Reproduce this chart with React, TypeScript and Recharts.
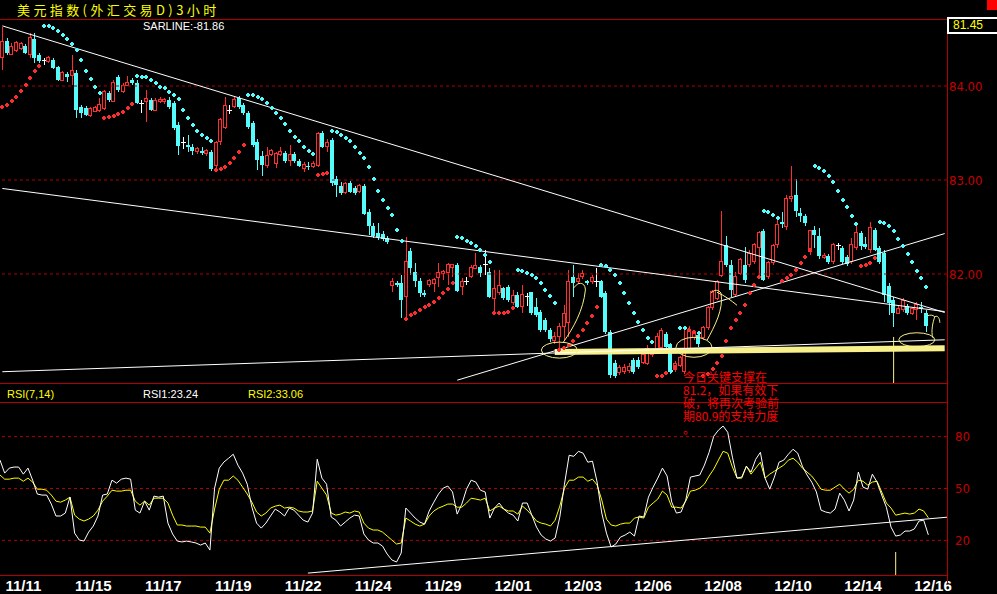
import React from 'react'
import {
  ComposedChart, Bar, Line, XAxis, YAxis,
  ReferenceLine, ReferenceDot
} from 'recharts'

// 3-hour bars, USD index
const opens = [
  84.30, 84.48, 84.34, 84.38, 84.40, 84.43, 84.34, 84.50, 84.33, 84.27,
  84.26, 84.28, 84.20, 84.06, 84.13, 84.11, 84.14, 83.78, 83.77, 83.69,
  83.73, 83.74, 83.76, 83.93, 83.84, 84.10, 83.94, 84.01, 84.06, 84.03,
  83.81, 83.83, 83.85, 83.74, 83.83, 83.83, 83.85, 83.82, 83.59, 83.40,
  83.37, 83.35, 83.30, 83.31, 83.28, 83.30, 83.15, 83.41, 83.56, 83.74,
  83.78, 83.87, 83.80, 83.71, 83.61, 83.40, 83.25, 83.15, 83.27, 83.18,
  83.27, 83.29, 83.21, 83.28, 83.20, 83.12, 83.15, 83.14, 83.15, 83.50,
  83.36, 83.43, 83.01, 82.94, 82.87, 82.97, 82.92, 82.88, 82.94, 82.66,
  82.51, 82.44, 82.43, 82.38, 81.88, 81.90, 81.90, 81.76, 82.24, 82.02,
  81.93, 81.80, 81.89, 81.90, 81.96, 82.00, 82.02, 82.07, 82.10, 81.87,
  81.92, 81.97, 82.06, 82.07, 82.10, 82.02, 81.74, 81.80, 81.85, 81.86,
  81.70, 81.78, 81.65, 81.76, 81.81, 81.65, 81.60, 81.51, 81.40, 81.29,
  81.33, 81.44, 81.48, 81.97, 81.92, 81.97, 81.92, 81.92, 81.92, 81.92,
  81.80, 81.38, 81.05, 80.95, 80.96, 80.97, 81.08, 81.08, 81.06, 81.05,
  81.14, 81.19, 81.22, 81.36, 81.25, 80.98, 81.03, 80.96, 81.19, 81.32,
  81.35, 81.32, 81.43, 81.64, 81.74, 81.98, 82.31, 82.10, 81.78, 82.01,
  82.10, 82.10, 82.13, 82.28, 82.46, 81.97, 82.12, 82.31, 82.55, 82.51,
  82.80, 82.84, 82.65, 82.62, 82.24, 82.47, 82.40, 82.18, 82.19, 82.13,
  82.30, 82.28, 82.18, 82.13, 82.28, 82.44, 82.32, 82.26, 82.47, 82.28,
  82.22, 81.87, 81.72, 81.58, 81.62, 81.66, 81.58, 81.62, 81.65, 81.58
]
const highs = [
  84.63, 84.51, 84.46, 84.48, 84.47, 84.45, 84.56, 84.56, 84.35, 84.30,
  84.32, 84.30, 84.21, 84.16, 84.15, 84.33, 84.17, 83.80, 83.79, 83.78,
  83.79, 83.87, 83.96, 83.95, 84.06, 84.12, 84.03, 84.11, 84.08, 84.06,
  83.85, 83.96, 83.87, 83.87, 83.88, 83.87, 83.88, 83.84, 83.62, 83.46,
  83.48, 83.38, 83.35, 83.35, 83.33, 83.32, 83.42, 83.66, 83.88, 83.80,
  83.89, 83.89, 83.82, 83.73, 83.63, 83.44, 83.31, 83.35, 83.33, 83.30,
  83.35, 83.31, 83.37, 83.30, 83.22, 83.19, 83.19, 83.20, 83.51, 83.52,
  83.44, 83.45, 83.04, 82.98, 82.98, 82.99, 82.94, 82.96, 82.96, 82.69,
  82.54, 82.54, 82.46, 82.40, 81.96, 81.93, 81.99, 82.39, 82.28, 82.12,
  81.96, 81.83, 81.95, 81.96, 82.12, 82.04, 82.12, 82.11, 82.12, 81.96,
  81.97, 82.10, 82.22, 82.10, 82.26, 82.06, 82.04, 82.04, 81.86, 81.88,
  81.83, 81.81, 81.88, 81.80, 81.81, 81.74, 81.62, 81.53, 81.43, 81.38,
  81.48, 81.67, 82.04, 82.10, 82.01, 82.04, 81.94, 81.99, 82.06, 81.94,
  81.82, 81.40, 81.08, 81.03, 81.04, 81.05, 81.11, 81.12, 81.16, 81.24,
  81.19, 81.37, 81.43, 81.38, 81.27, 81.07, 81.13, 81.43, 81.45, 81.40,
  81.37, 81.45, 81.66, 81.83, 81.94, 82.67, 82.40, 82.15, 82.02, 82.17,
  82.29, 82.25, 82.33, 82.46, 82.48, 82.14, 82.32, 82.57, 82.66, 82.84,
  83.15, 83.01, 82.70, 82.64, 82.46, 82.51, 82.49, 82.22, 82.21, 82.33,
  82.33, 82.30, 82.20, 82.38, 82.55, 82.46, 82.39, 82.55, 82.49, 82.30,
  82.26, 81.90, 81.76, 81.67, 81.74, 81.68, 81.65, 81.70, 81.70, 81.62
]
const lows = [
  84.17, 84.33, 84.33, 84.36, 84.38, 84.34, 84.30, 84.25, 84.25, 84.22,
  84.25, 84.18, 84.05, 84.05, 84.04, 84.01, 83.66, 83.66, 83.68, 83.67,
  83.72, 83.72, 83.74, 83.83, 83.83, 83.94, 83.93, 84.00, 84.01, 83.81,
  83.71, 83.62, 83.73, 83.73, 83.82, 83.81, 83.76, 83.53, 83.27, 83.33,
  83.30, 83.27, 83.28, 83.27, 83.26, 83.10, 83.13, 83.37, 83.54, 83.70,
  83.77, 83.76, 83.69, 83.54, 83.35, 83.11, 83.04, 83.13, 83.25, 83.13,
  83.25, 83.18, 83.15, 83.18, 83.14, 83.09, 83.11, 83.13, 83.14, 83.34,
  83.30, 82.94, 82.82, 82.84, 82.85, 82.86, 82.84, 82.86, 82.63, 82.42,
  82.38, 82.36, 82.35, 82.32, 81.81, 81.86, 81.53, 81.54, 81.99, 81.86,
  81.76, 81.76, 81.86, 81.81, 81.86, 81.94, 81.88, 81.97, 81.81, 81.78,
  81.88, 81.96, 82.05, 81.97, 81.99, 81.74, 81.58, 81.78, 81.72, 81.70,
  81.67, 81.64, 81.58, 81.66, 81.56, 81.54, 81.38, 81.38, 81.28, 81.25,
  81.19, 81.30, 81.33, 81.76, 81.89, 81.95, 81.88, 81.89, 81.86, 81.74,
  81.36, 80.89, 80.89, 80.92, 80.94, 80.95, 80.94, 80.99, 81.04, 81.03,
  81.12, 81.16, 81.20, 81.20, 80.94, 80.96, 81.01, 80.94, 81.17, 81.30,
  81.22, 81.30, 81.40, 81.62, 81.72, 81.97, 82.07, 81.76, 81.76, 81.99,
  81.90, 82.07, 82.11, 81.96, 81.92, 81.95, 82.10, 82.28, 82.49, 82.47,
  82.77, 82.61, 82.55, 82.51, 82.20, 82.28, 82.16, 82.16, 82.11, 82.11,
  82.26, 82.11, 82.09, 82.11, 82.26, 82.26, 82.27, 82.22, 82.24, 82.11,
  81.70, 81.56, 81.44, 81.57, 81.60, 81.56, 81.56, 81.51, 81.58, 81.38
]
const closes = [
  84.47, 84.35, 84.42, 84.46, 84.45, 84.35, 84.52, 84.30, 84.27, 84.27,
  84.30, 84.19, 84.06, 84.14, 84.10, 84.17, 83.74, 83.71, 83.69, 83.76,
  83.77, 83.80, 83.94, 83.85, 84.04, 83.96, 84.01, 84.04, 84.03, 83.82,
  83.81, 83.87, 83.74, 83.85, 83.86, 83.86, 83.78, 83.55, 83.36, 83.40,
  83.35, 83.31, 83.33, 83.29, 83.31, 83.12, 83.40, 83.64, 83.79, 83.74,
  83.86, 83.78, 83.71, 83.56, 83.37, 83.21, 83.16, 83.26, 83.31, 83.28,
  83.30, 83.20, 83.27, 83.20, 83.15, 83.16, 83.14, 83.18, 83.49, 83.35,
  83.40, 82.97, 82.95, 82.86, 82.96, 82.87, 82.86, 82.94, 82.64, 82.51,
  82.40, 82.39, 82.37, 82.34, 81.92, 81.88, 81.72, 82.13, 82.06, 81.92,
  81.80, 81.78, 81.93, 81.94, 82.02, 82.03, 82.10, 82.10, 81.82, 81.92,
  81.92, 82.07, 82.09, 82.01, 82.10, 81.76, 81.85, 81.88, 81.74, 81.72,
  81.77, 81.65, 81.78, 81.76, 81.58, 81.56, 81.40, 81.40, 81.31, 81.34,
  81.44, 81.58, 81.92, 81.90, 81.95, 82.01, 81.90, 81.96, 81.92, 81.76,
  81.38, 80.92, 80.91, 81.00, 81.01, 81.02, 80.96, 81.01, 81.14, 81.21,
  81.17, 81.33, 81.40, 81.22, 80.96, 81.05, 81.11, 81.19, 81.40, 81.38,
  81.25, 81.43, 81.64, 81.81, 81.92, 82.13, 82.10, 81.83, 81.97, 82.15,
  81.94, 82.22, 82.31, 82.44, 81.94, 82.12, 82.30, 82.53, 82.53, 82.80,
  82.82, 82.67, 82.62, 82.54, 82.46, 82.42, 82.19, 82.20, 82.13, 82.31,
  82.30, 82.13, 82.11, 82.31, 82.44, 82.30, 82.29, 82.49, 82.26, 82.13,
  81.78, 81.69, 81.58, 81.63, 81.72, 81.58, 81.63, 81.67, 81.63, 81.45
]
const sarValues = [
  83.78, 83.80, 83.84, 83.88, 83.95, 84.01, 84.09, 84.16, 84.21, 84.64,
  84.64, 84.62, 84.59, 84.54, 84.50, 84.45, 84.38, 84.28, 84.16, 84.07,
  83.99, 83.93, 83.66, 83.67, 83.68, 83.70, 83.72, 83.77, 83.81, 84.11,
  84.10, 84.10, 84.06, 84.03, 83.99, 83.98, 83.94, 83.90, 83.86, 83.74,
  83.66, 83.59, 83.52, 83.48, 83.45, 83.41, 83.11, 83.12, 83.14, 83.18,
  83.23, 83.30, 83.37, 83.90, 83.90, 83.88, 83.86, 83.82, 83.77, 83.71,
  83.66, 83.60, 83.52, 83.46, 83.41, 83.35, 83.31, 83.28, 83.05, 83.06,
  83.07, 83.52, 83.51, 83.48, 83.45, 83.41, 83.35, 83.29, 83.23, 83.14,
  83.01, 82.88, 82.79, 82.70, 82.63, 82.47, 82.35, 81.52, 81.56, 81.58,
  81.62, 81.65, 81.67, 81.70, 81.74, 81.80, 81.84, 81.90, 82.39, 82.38,
  82.35, 82.33, 82.30, 82.26, 82.20, 82.13, 81.58, 81.58, 81.58, 81.60,
  81.64, 82.04, 82.03, 82.01, 81.99, 81.96, 81.90, 81.83, 81.77, 81.69,
  81.19, 81.21, 81.24, 81.29, 81.34, 81.40, 81.48, 81.55, 81.65, 82.10,
  82.09, 82.04, 81.99, 81.90, 81.80, 81.69, 81.58, 81.49, 81.40, 81.32,
  81.28, 80.91, 80.91, 80.95, 80.97, 81.01, 81.43, 81.42, 81.40, 81.38,
  81.37, 80.91, 80.94, 80.99, 81.05, 81.13, 81.29, 81.42, 81.51, 81.58,
  81.67, 81.80, 81.88, 81.97, 82.67, 82.66, 82.63, 82.60, 81.93, 81.96,
  81.99, 82.04, 82.12, 82.18, 82.26, 83.15, 83.13, 83.10, 83.04, 82.98,
  82.88, 82.79, 82.71, 82.62, 82.53, 82.09, 82.10, 82.12, 82.17, 82.55,
  82.54, 82.51, 82.46, 82.37, 82.30, 82.21, 82.13, 82.03, 81.96, 81.86
]
const rsi1 = [
  66.4, 58.9, 61.8, 62.4, 62.4, 58.3, 61.8, 54.8, 46.8, 46.2,
  46.2, 41.0, 34.1, 34.1, 35.8, 45.0, 24.2, 20.2, 19.6, 24.8,
  28.3, 34.1, 46.2, 46.8, 54.8, 53.1, 55.4, 56.0, 55.4, 37.5,
  35.8, 42.7, 37.5, 45.6, 45.0, 45.6, 30.0, 23.7, 19.6, 19.1,
  19.6, 19.1, 18.5, 17.3, 18.5, 14.4, 50.2, 61.8, 65.3, 67.5,
  69.8, 63.5, 58.9, 52.5, 39.2, 30.0, 27.1, 30.0, 34.1, 38.1,
  36.4, 34.1, 38.7, 37.5, 34.6, 31.7, 30.6, 35.8, 66.9, 56.0,
  52.5, 33.5, 31.7, 28.3, 30.6, 32.9, 34.6, 34.1, 23.7, 20.2,
  18.5, 18.5, 16.7, 12.1, 8.7, 7.5, 12.7, 38.7, 35.8, 32.9,
  30.6, 29.4, 37.0, 42.1, 46.8, 50.2, 51.4, 48.0, 35.2, 41.0,
  49.6, 54.8, 53.7, 49.0, 48.0, 32.9, 38.7, 41.6, 38.1, 35.8,
  34.6, 31.2, 41.6, 41.6, 34.6, 27.7, 23.1, 20.8, 19.6, 21.4,
  33.5, 52.5, 69.2, 68.6, 71.5, 70.4, 65.2, 65.8, 53.7, 35.8,
  24.2, 16.2, 17.9, 21.9, 23.1, 24.8, 22.5, 34.1, 33.5, 45.0,
  50.8, 56.0, 61.8, 57.2, 42.1, 35.8, 36.4, 43.3, 56.6, 57.2,
  57.8, 63.5, 70.9, 80.2, 83.7, 86.1, 82.5, 68.1, 56.0, 56.6,
  62.9, 59.5, 66.9, 70.9, 56.0, 49.6, 56.6, 65.2, 66.4, 69.8,
  72.7, 70.4, 62.9, 57.8, 53.7, 48.0, 37.5, 36.4, 35.8, 38.1,
  47.3, 43.3, 37.0, 43.3, 59.5, 50.8, 49.6, 58.3, 53.7, 46.2,
  39.2, 27.7, 22.5, 23.1, 25.4, 25.4, 26.6, 31.2, 31.7, 23.2
]
const rsi2 = [
  57.8, 55.4, 55.4, 56.0, 56.0, 54.2, 56.0, 53.7, 49.6, 49.6,
  49.0, 46.2, 42.7, 42.1, 43.3, 45.0, 34.6, 32.3, 31.2, 32.3,
  34.1, 37.5, 42.7, 45.6, 49.0, 48.5, 48.5, 49.0, 49.0, 42.7,
  40.4, 42.7, 40.4, 44.4, 44.4, 44.4, 41.6, 34.6, 28.9, 28.9,
  28.3, 28.3, 28.3, 27.7, 27.7, 24.2, 38.1, 49.6, 54.8, 54.8,
  57.2, 54.8, 50.8, 46.8, 42.1, 36.4, 34.1, 35.8, 38.7, 39.8,
  40.4, 38.7, 39.2, 38.7, 37.0, 36.4, 36.4, 37.0, 54.2, 50.2,
  46.2, 35.8, 34.6, 35.2, 36.4, 35.8, 37.0, 36.4, 30.0, 27.1,
  26.0, 26.0, 24.8, 22.5, 20.2, 17.9, 18.5, 32.9, 31.2, 29.4,
  28.3, 29.4, 34.1, 37.0, 38.7, 39.8, 41.0, 41.0, 39.2, 39.2,
  41.6, 44.4, 43.9, 43.3, 44.4, 37.0, 38.7, 39.8, 38.1, 37.0,
  37.0, 35.2, 39.8, 37.5, 34.6, 31.2, 30.0, 29.4, 28.3, 31.7,
  39.8, 50.2, 54.8, 54.8, 56.6, 56.6, 54.2, 55.4, 52.0, 43.3,
  32.3, 28.9, 28.3, 29.4, 30.0, 30.0, 32.9, 33.5, 32.9, 39.2,
  41.6, 43.9, 48.5, 46.2, 39.2, 39.2, 38.7, 42.7, 48.5, 49.0,
  50.2, 52.5, 57.2, 61.2, 66.4, 71.5, 70.4, 62.4, 56.0, 56.0,
  62.9, 58.3, 61.8, 65.2, 56.0, 58.3, 60.0, 61.8, 63.5, 66.4,
  67.5, 65.2, 61.8, 59.5, 57.2, 53.7, 49.6, 49.0, 49.0, 50.8,
  52.5, 49.6, 47.3, 49.6, 54.8, 54.2, 52.0, 53.7, 54.2, 48.0,
  41.6, 38.7, 34.6, 35.2, 35.8, 35.2, 35.8, 38.1, 37.0, 33.1
]
const dateTicks = [5, 20, 35, 50, 65, 80, 95, 110, 125, 140, 155, 170, 185, 200]
const dateLabels = ['11/11', '11/15', '11/17', '11/19', '11/22', '11/24', '11/29',
  '12/01', '12/03', '12/06', '12/08', '12/10', '12/14', '12/16']
const priceTicks = [82, 83, 84]
const rsiTicks = [20, 50, 80]

// hand drawn lines on the chart: [bar, price] -> [bar, price]
const trendLines = [
  [[0, 84.64], [203, 81.59]],
  [[0, 82.91], [203, 81.60]],
  [[98, 80.87], [203, 82.43]],
  [[0, 80.96], [203, 81.30]]
]
const supportBand = [[119, 81.17], [203, 81.21]]
const rsiTrend = [[66, 1.1], [203, 33.4]]
const markerBar = 192

const SLOTS = 204
const rows = Array.from({ length: SLOTS }, (_, i) => ({
  i,
  open: opens[i], high: highs[i], low: lows[i], close: closes[i],
  sar: sarValues[i], rsi1: rsi1[i], rsi2: rsi2[i]
}))

const UP = '#ff2e2e'
const DOWN = '#54fcfc'
const FLAT = '#ffffff'
const GRID = '#b00000'
const AXIS_RED = '#c40000'
const YELLOW = '#ffff00'
const PALE = '#f8f08a'
const NARROW = "'Liberation Sans Narrow', 'DejaVu Sans Condensed', 'Liberation Sans', sans-serif"
const SANS = "'Liberation Sans', Arial, sans-serif"

const seg = (s: number[][]) => s.map(([x, y]) => ({ x, y }))

function Candle(props: any) {
  const { x, y, width, height, payload } = props
  if (!payload || payload.high == null || !isFinite(y)) return <g />
  const { open, high, low, close } = payload
  const top = Math.min(y, y + height)
  const bot = Math.max(y, y + height)
  const span = high - low || 1
  const py = (v: number) => top + ((high - v) / span) * (bot - top)
  const cx = Math.floor(x + width / 2) + 0.5
  const yo = py(open)
  const yc = py(close)
  const b0 = Math.min(yo, yc)
  const b1 = Math.max(yo, yc)
  if (close > open) {
    return (
      <g stroke={UP} shapeRendering="crispEdges">
        <line x1={cx} x2={cx} y1={top} y2={b0} />
        <line x1={cx} x2={cx} y1={b1} y2={bot} />
        <rect x={cx - 2} y={b0} width={3} height={Math.max(b1 - b0, 1)} fill="#000" />
      </g>
    )
  }
  const col = close < open ? DOWN : FLAT
  return (
    <g shapeRendering="crispEdges">
      <line x1={cx} x2={cx} y1={top} y2={bot} stroke={col} />
      {close < open
        ? <rect x={cx - 2.5} y={b0} width={4} height={Math.max(b1 - b0, 1)} fill={col} />
        : <line x1={cx - 2.5} x2={cx + 2.5} y1={b0} y2={b0} stroke={col} />}
    </g>
  )
}

function SarDot(props: any) {
  const { cx, cy, payload, index } = props
  if (cx == null || cy == null || !payload || payload.sar == null) return <g key={`s${index}`} />
  const c = payload.sar > payload.close ? DOWN : UP
  return (
    <g key={`s${index}`} fill={c} shapeRendering="crispEdges">
      <rect x={cx - 2} y={cy - 1} width={4} height={2} />
      <rect x={cx - 1} y={cy - 2} width={2} height={4} />
    </g>
  )
}

// pale yellow circles with a tail, as scribbled on the original
const loops = [
  { bar: 120, price: 81.19, rx: 18, ry: 8, tail: 'M 4 -8 C 14 -22 24 -40 26 -60 C 26 -66 22 -68 18 -66 L 14 -62' },
  { bar: 149, price: 81.22, rx: 18, ry: 10, tail: 'M 13 -7 C 20 -20 30 -38 27 -54 C 25 -58 20 -58 17 -54 M 23 -55 C 30 -52 37 -47 43 -42' },
  { bar: 197, price: 81.30, rx: 18, ry: 7, tail: 'M 16 -2 C 14 -8 16 -18 18 -23 C 16 -25 13 -25 11 -24 M 18 -23 C 21 -25 23 -21 23 -17' }
]

const hLine = (top: number): React.CSSProperties => ({
  position: 'absolute', left: 0, top, width: 947, height: 1, background: GRID
})

export default function App() {
  return (
    <div style={{ position: 'absolute', left: 0, top: 0, width: 997, height: 594, background: '#000', overflow: 'hidden', fontFamily: SANS }}>
      <div style={{ position: 'absolute', left: 0, top: 19 }}>
        <ComposedChart width={997} height={364} data={rows} margin={{ top: 0, right: 0, bottom: 0, left: 0 }}>
          <XAxis dataKey="i" type="category" hide />
          <YAxis
            orientation="right" width={50} domain={[80.84, 84.713]} allowDataOverflow
            ticks={priceTicks} tickFormatter={(v: number) => v.toFixed(2)}
            axisLine={false} tickLine={false} tickSize={0} tickMargin={2}
            tick={{ fill: AXIS_RED, fontSize: 13, fontFamily: NARROW }}
          />
          {priceTicks.map(t => (
            <ReferenceLine key={t} y={t} stroke={GRID} strokeDasharray="3 3" />
          ))}
          <ReferenceLine segment={seg(supportBand)} stroke={PALE} strokeWidth={6} />
          {trendLines.map((s, k) => (
            <ReferenceLine key={k} segment={seg(s)} stroke="#ffffff" strokeWidth={1} />
          ))}
          <Bar
            dataKey={(d: any) => (d.high == null ? null : [d.low, d.high])}
            shape={Candle} isAnimationActive={false}
          />
          <Line dataKey="sar" stroke="none" dot={SarDot} activeDot={false} isAnimationActive={false} />
          <ReferenceLine segment={[{ x: markerBar, y: 81.33 }, { x: markerBar, y: 80.84 }]} stroke={PALE} />
          {loops.map((l, k) => (
            <ReferenceDot
              key={k} x={l.bar} y={l.price}
              shape={(p: any) => (
                <g fill="none" stroke={PALE} strokeWidth={1}>
                  <ellipse cx={p.cx} cy={p.cy} rx={l.rx} ry={l.ry} />
                  <path d={l.tail} transform={`translate(${p.cx},${p.cy})`} />
                </g>
              )}
            />
          ))}
        </ComposedChart>
      </div>

      <div style={{ position: 'absolute', left: 0, top: 402 }}>
        <ComposedChart width={997} height={192} data={rows} margin={{ top: 0, right: 0, bottom: 0, left: 0 }}>
          <XAxis
            dataKey="i" type="category" ticks={dateTicks} interval={0} height={19}
            tickFormatter={(v: number) => dateLabels[dateTicks.indexOf(v)]}
            axisLine={false} tickLine={false} tickSize={0} tickMargin={5}
            tick={{ fill: '#ffffff', fontSize: 15, fontWeight: 700, fontFamily: SANS }}
          />
          <YAxis
            orientation="right" width={50} domain={[0, 100]} ticks={rsiTicks}
            axisLine={false} tickLine={false} tickSize={0} tickMargin={8}
            tick={{ fill: AXIS_RED, fontSize: 13, fontFamily: NARROW }}
          />
          {rsiTicks.map(t => (
            <ReferenceLine key={t} y={t} stroke={GRID} strokeDasharray="3 3" />
          ))}
          <ReferenceLine segment={seg(rsiTrend)} stroke="#ffffff" />
          <ReferenceLine segment={[{ x: markerBar, y: 13.3 }, { x: markerBar, y: 0 }]} stroke={PALE} />
          <Line dataKey="rsi2" stroke={YELLOW} strokeWidth={1} dot={false} activeDot={false} isAnimationActive={false} />
          <Line dataKey="rsi1" stroke="#ffffff" strokeWidth={1} dot={false} activeDot={false} isAnimationActive={false} />
        </ComposedChart>
      </div>

      {/* frame */}
      <div style={hLine(19)} />
      <div style={hLine(383)} />
      <div style={hLine(402)} />
      <div style={hLine(575)} />
      <div style={{ position: 'absolute', left: 947, top: 19, width: 1, height: 564, background: GRID }} />

      {/* texts */}
      <div style={{ position: 'absolute', left: 17, top: 0, color: YELLOW, fontSize: 13, lineHeight: '19px', letterSpacing: 3.4, fontFamily: "'Noto Sans CJK SC', sans-serif", whiteSpace: 'nowrap' }}>
        美元指数(外汇交易D)3小时
      </div>
      <div style={{ position: 'absolute', left: 143, top: 20, color: '#fff', fontSize: 11, lineHeight: '13px' }}>SARLINE:-81.86</div>
      <div style={{ position: 'absolute', left: 947, top: 17, width: 60, height: 17, boxSizing: 'border-box', border: '2px solid #fff', color: YELLOW, fontSize: 12, lineHeight: '13px', paddingLeft: 4 }}>81.45</div>
      <div style={{ position: 'absolute', left: 987, top: 0, width: 10, height: 10, background: '#ff0000' }} />
      <div style={{ position: 'absolute', left: 7, top: 388, color: YELLOW, fontSize: 11, lineHeight: '13px' }}>RSI(7,14)</div>
      <div style={{ position: 'absolute', left: 143, top: 388, color: '#fff', fontSize: 11, lineHeight: '13px' }}>RSI1:23.24</div>
      <div style={{ position: 'absolute', left: 248, top: 388, color: YELLOW, fontSize: 11, lineHeight: '13px' }}>RSI2:33.06</div>
      <div style={{ position: 'absolute', left: 683, top: 370, color: '#ff0000', fontSize: 12, lineHeight: '13px', fontFamily: "'Noto Sans CJK SC', sans-serif", whiteSpace: 'pre' }}>
        {'今日关键支撑在\n81.2，如果有效下\n破，将再次考验前\n期80.9的支持力度\n。'}
      </div>
    </div>
  )
}
